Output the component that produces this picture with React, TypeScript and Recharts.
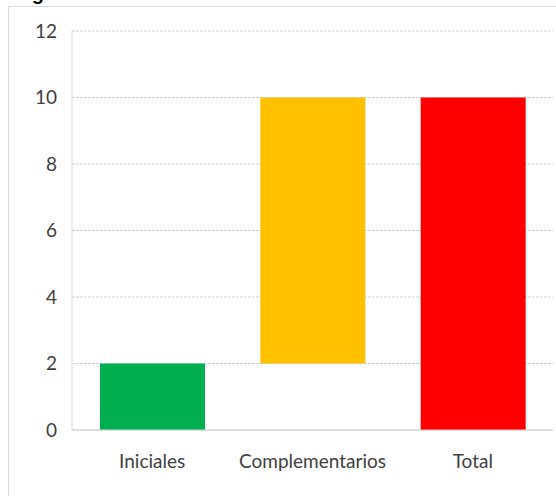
import React from "react";
import { BarChart, Bar, XAxis, YAxis, CartesianGrid, Cell } from "recharts";

const categories = ["Iniciales", "Complementarios", "Total"];
const baseValues = [0, 2, 0];
const barValues = [2, 8, 10];
const barColors = ["#00B050", "#FFC000", "#FF0000"];
const yTicks = [0, 2, 4, 6, 8, 10, 12];
const titleText = "Figura 1. Número de contratos";

const data = categories.map((name, i) => ({
  name,
  base: baseValues[i],
  value: barValues[i],
}));

const FONT = "Lato, 'Open Sans', sans-serif";

export default function App() {
  return (
    <div
      style={{
        position: "absolute",
        left: 0,
        top: 0,
        width: 556,
        height: 496,
        overflow: "hidden",
        background: "#fff",
      }}
    >
      <svg
        width={556}
        height={20}
        style={{ position: "absolute", left: 0, top: 0 }}
      >
        <text
          x={14}
          y={0}
          fontFamily="Arial, 'Liberation Sans', sans-serif"
          fontWeight="bold"
          fontSize={20}
          fill="#000"
        >
          {titleText}
        </text>
      </svg>
      <div
        style={{
          position: "absolute",
          left: 8,
          top: 6,
          width: 600,
          height: 600,
          border: "1px solid #d9d9d9",
          boxSizing: "border-box",
        }}
      />
      <div style={{ position: "absolute", left: 0, top: 0 }}>
        <BarChart
          width={556}
          height={496}
          data={data}
          margin={{ top: 31, right: 3, bottom: 36, left: 0 }}
        >
          <CartesianGrid
            vertical={false}
            stroke="#d0d0d0"
            strokeDasharray="3 1"
          />
          <XAxis
            dataKey="name"
            height={30}
            axisLine={{ stroke: "#d0d0d0" }}
            tickLine={false}
            tickSize={6}
            tickMargin={19}
            tick={{ fill: "#404040", fontSize: 19, fontFamily: FONT }}
            interval={0}
          />
          <YAxis
            width={72}
            domain={[0, 12]}
            ticks={yTicks}
            axisLine={{ stroke: "#d0d0d0", strokeDasharray: "3 1" }}
            tickLine={false}
            tickSize={6}
            tickMargin={9}
            tick={{ fill: "#404040", fontSize: 19, fontFamily: FONT }}
          />
          <Bar
            dataKey="base"
            stackId="a"
            fill="transparent"
            isAnimationActive={false}
            barSize={105}
          />
          <Bar
            dataKey="value"
            stackId="a"
            isAnimationActive={false}
            barSize={105}
          >
            {data.map((d, i) => (
              <Cell key={d.name} fill={barColors[i]} />
            ))}
          </Bar>
        </BarChart>
      </div>
    </div>
  );
}
